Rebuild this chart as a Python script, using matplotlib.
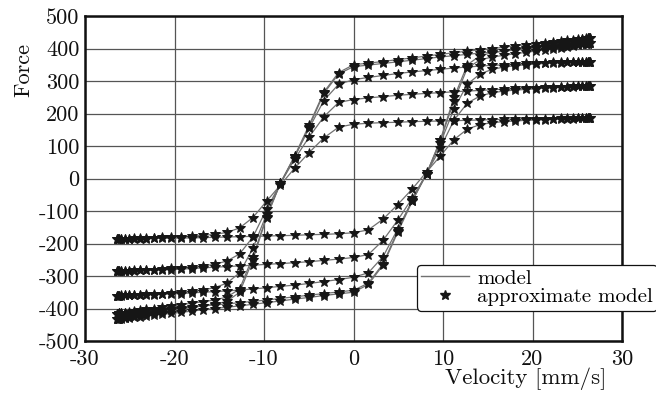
import matplotlib
matplotlib.use("Agg")
import matplotlib.pyplot as plt

# ---------------- data ----------------
# velocity samples, upper branch (velocity decreasing)
v_up = [26.4, 26.35, 26.19, 25.93, 25.57, 25.11, 24.55, 23.89, 23.13, 22.29,
        21.36, 20.34, 19.25, 18.07, 16.83, 15.52, 14.15, 12.72, 11.24, 9.72,
        8.16, 6.57, 4.95, 3.31, 1.66, 0.0, -1.66, -3.31, -4.95, -6.57,
        -8.16, -9.72, -11.24, -12.72, -14.15, -15.52, -16.83, -18.07, -19.25, -20.34,
        -21.36, -22.29, -23.13, -23.89, -24.55, -25.11, -25.57, -25.93, -26.19, -26.35,
        -26.4]
# velocity samples, lower branch (velocity increasing)
v_low = [-26.4, -26.35, -26.19, -25.93, -25.57, -25.11, -24.55, -23.89, -23.13, -22.29,
         -21.36, -20.34, -19.25, -18.07, -16.83, -15.52, -14.15, -12.72, -11.24, -9.72,
         -8.16, -6.57, -4.95, -3.31, -1.66, 0.0, 1.66, 3.31, 4.95, 6.57,
         8.16, 9.72, 11.24, 12.72, 14.15, 15.52, 16.83, 18.07, 19.25, 20.34,
         21.36, 22.29, 23.13, 23.89, 24.55, 25.11, 25.57, 25.93, 26.19, 26.35,
         26.4]

f_up_1 = [186, 186, 186, 186, 186, 185, 185, 185, 185, 184, 184, 184, 183, 183, 182, 181, 180,
          179, 178, 177, 176, 175, 173, 172, 170, 167, 158, 125, 80, 32, -20, -70, -120,
          -152, -166, -172, -175, -177, -179, -180, -181, -182, -183, -184, -184, -185, -185,
          -186, -186, -186, -186]
f_low_1 = [-186, -186, -186, -186, -186, -185, -185, -185, -185, -184, -184, -184, -183, -183, -182, -181, -180,
           -179, -178, -177, -176, -175, -173, -172, -170, -167, -158, -125, -80, -32, 20, 70, 120,
           152, 166, 172, 175, 177, 179, 180, 181, 182, 183, 184, 184, 185, 185,
           186, 186, 186, 186]

f_up_2 = [285, 285, 285, 285, 284, 284, 284, 283, 283, 282, 281, 280, 279, 277, 275, 273, 271,
          269, 267, 264, 262, 259, 256, 252, 248, 243, 234, 190, 128, 60, -15, -95, -180,
          -232, -254, -264, -269, -272, -274, -276, -278, -280, -281, -282, -283, -284, -284,
          -285, -285, -285, -285]
f_low_2 = [-285, -285, -285, -285, -284, -284, -284, -283, -283, -282, -281, -280, -279, -277, -275, -273, -271,
           -269, -267, -264, -262, -259, -256, -252, -248, -243, -234, -190, -128, -60, 15, 95, 180,
           232, 254, 264, 269, 272, 274, 276, 278, 280, 281, 282, 283, 284, 284,
           285, 285, 285, 285]

f_up_3 = [360, 360, 360, 359, 359, 359, 358, 358, 357, 357, 356, 355, 354, 352, 350, 348, 346,
          343, 340, 336, 332, 328, 323, 317, 311, 304, 290, 240, 155, 68, -15, -110, -215,
          -290, -322, -336, -343, -347, -350, -352, -354, -355, -356, -357, -358, -359, -359,
          -360, -360, -360, -360]
f_low_3 = [-360, -360, -360, -359, -359, -359, -358, -358, -357, -357, -356, -355, -354, -352, -350, -348, -346,
           -343, -340, -336, -332, -328, -323, -317, -311, -304, -290, -240, -155, -68, 15, 110, 215,
           290, 322, 336, 343, 347, 350, 352, 354, 355, 356, 357, 358, 359, 359,
           360, 360, 360, 360]

f_up_4 = [416, 416, 415, 415, 414, 413, 412, 410, 408, 406, 404, 401, 398, 395, 392, 389, 386,
          382, 378, 374, 369, 364, 359, 354, 349, 344, 322, 262, 160, 66, -14, -118, -240,
          -340, -365, -374, -379, -384, -388, -392, -396, -400, -403, -406, -409, -411, -413,
          -414, -415, -416, -416]
f_low_4 = [-416, -416, -415, -415, -414, -413, -412, -410, -408, -406, -404, -401, -398, -395, -392, -389, -386,
           -382, -378, -374, -369, -364, -359, -354, -349, -344, -322, -262, -160, -66, 14, 118, 240,
           340, 365, 374, 379, 384, 388, 392, 396, 400, 403, 406, 409, 411, 413,
           414, 415, 416, 416]

f_up_5 = [432, 432, 431, 431, 430, 429, 427, 425, 423, 420, 418, 415, 412, 408, 404, 400, 396,
          392, 387, 382, 377, 371, 366, 360, 355, 350, 326, 266, 165, 70, -14, -120, -250,
          -350, -378, -387, -392, -397, -402, -406, -410, -414, -418, -421, -424, -427, -429,
          -430, -431, -432, -432]
f_low_5 = [-432, -432, -431, -431, -430, -429, -427, -425, -423, -420, -418, -415, -412, -408, -404, -400, -396,
           -392, -387, -382, -377, -371, -366, -360, -355, -350, -326, -266, -165, -70, 14, 120, 250,
           350, 378, 387, 392, 397, 402, 406, 410, 414, 418, 421, 424, 427, 429,
           430, 431, 432, 432]

upper_branches = [f_up_1, f_up_2, f_up_3, f_up_4, f_up_5]
lower_branches = [f_low_1, f_low_2, f_low_3, f_low_4, f_low_5]

x_ticks = [-30, -20, -10, 0, 10, 20, 30]
x_tick_labels = ["-30", "-20", "-10", "0", "10", "20", "30"]
y_ticks = [-500, -400, -300, -200, -100, 0, 100, 200, 300, 400, 500]
y_tick_labels = ["-500", "-400", "-300", "-200", "-100", "0", "100", "200", "300", "400", "500"]

# ---------------- plot ----------------
plt.rcParams['font.family'] = ['cmr10', 'DejaVu Serif']
plt.rcParams['axes.unicode_minus'] = False

fig = plt.figure(figsize=(6.56, 3.94), dpi=100)
ax = fig.add_axes([85 / 656, 1 - 341 / 394, 537 / 656, 325 / 394])

line_color = "#707070"
mk_color = "#161616"
for fu, fl in zip(upper_branches, lower_branches):
    ax.plot(v_up, fu, color=line_color, lw=0.9, zorder=3)
    ax.plot(v_low, fl, color=line_color, lw=0.9, zorder=3)
    ax.plot(v_up, fu, linestyle="none", marker="*", ms=7.5, color=mk_color,
            markeredgewidth=0.7, zorder=4)
    ax.plot(v_low, fl, linestyle="none", marker="*", ms=7.5, color=mk_color,
            markeredgewidth=0.7, zorder=4)

ax.set_xlim(-30, 30)
ax.set_ylim(-500, 500)
ax.set_xticks(x_ticks)
ax.set_xticklabels(x_tick_labels)
ax.set_yticks(y_ticks)
ax.set_yticklabels(y_tick_labels)
ax.tick_params(axis="both", length=0, labelsize=16, colors="#111111")
ax.tick_params(axis="y", pad=4)
ax.tick_params(axis="x", pad=6)

ax.grid(True, color="#555555", lw=0.9)
ax.set_axisbelow(True)
for s in ax.spines.values():
    s.set_linewidth(1.8)
    s.set_color("#111111")

ax.set_ylabel("Force", fontsize=16, color="#111111")
ax.yaxis.set_label_coords(-0.097, 0.835)
ax.set_xlabel("Velocity [mm/s]", fontsize=16.5, color="#111111")
ax.xaxis.set_label_coords(0.82, -0.08)

h_model, = ax.plot([], [], color=line_color, lw=1.0)
h_approx, = ax.plot([], [], linestyle="none", marker="*", ms=7.5, color=mk_color)
leg = ax.legend([h_model, h_approx], ["model", "approximate model"],
                loc="upper left", bbox_to_anchor=(417 / 656, 1 - 265 / 394),
                bbox_transform=fig.transFigure, borderaxespad=0,
                fontsize=15, labelspacing=0.0, borderpad=0.2,
                handlelength=2.3, handletextpad=0.4, framealpha=1.0,
                fancybox=True)
leg.get_frame().set_edgecolor("#111111")
leg.get_frame().set_linewidth(0.9)

fig.savefig("out.png", dpi=100)
